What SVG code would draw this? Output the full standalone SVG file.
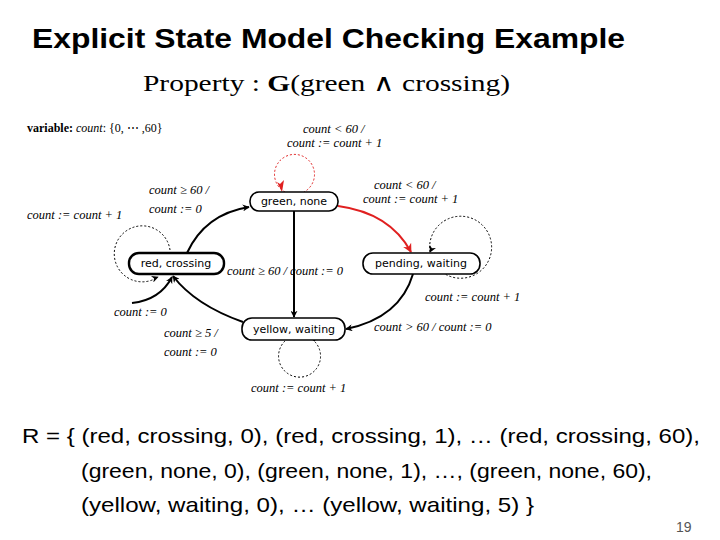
<svg xmlns="http://www.w3.org/2000/svg" width="720" height="540" viewBox="0 0 720 540">
<style>
.t{font-family:"Liberation Sans",Arial,sans-serif}
.m{font-family:"Liberation Serif","Times New Roman",serif;font-size:12.5px;font-style:italic}
.n rect{fill:#fff;stroke:#000;stroke-width:1.6}
.n text{font-family:"DejaVu Sans",sans-serif;font-size:11px;text-anchor:middle}
.e{fill:none;stroke:#000;stroke-width:2}
.d{fill:none;stroke:#000;stroke-width:1;stroke-dasharray:2,2}
</style>
<defs>
<marker id="a" viewBox="0 0 10 10" refX="9" refY="5" markerWidth="7" markerHeight="7" markerUnits="userSpaceOnUse" orient="auto"><path d="M0,0L10,5L0,10L3,5z" fill="#000"/></marker>
<marker id="r" viewBox="0 0 10 10" refX="9" refY="5" markerWidth="9" markerHeight="9" markerUnits="userSpaceOnUse" orient="auto"><path d="M0,0L10,5L0,10L3,5z" fill="#e02020"/></marker>
</defs>
<text class="t" x="32" y="48" font-size="28" font-weight="bold" textLength="593" lengthAdjust="spacingAndGlyphs">Explicit State Model Checking Example</text>
<text x="143" y="91" font-family="Liberation Serif,serif" font-size="24" textLength="367" lengthAdjust="spacingAndGlyphs">Property : <tspan font-weight="bold">G</tspan>(green ∧ crossing)</text>
<text x="27" y="132" font-family="Liberation Serif,serif" font-size="12"><tspan font-weight="bold">variable:</tspan> <tspan font-style="italic">count</tspan>: {0, ⋯ ,60}</text>
<g id="connectors">
<path class="d" d="M285,192 A20,20 0 1 1 304,192" style="stroke:#e02020"/>
<path d="M277,182 L282,192 L284,180 L280,184z" fill="#e02020"/>
<path class="d" d="M170,250 A28,28 0 1 0 158,277"/>
<path d="M150,280 L158,277" marker-end="url(#a)"/>
<path class="d" d="M430,252 A31,31 0 1 1 445,274"/>
<path d="M434,244 L430,252" marker-end="url(#a)"/>
<path class="d" d="M285,341 A21,21 0 1 0 313,340"/>
<path d="M311,336 L315,341" marker-end="url(#a)"/>
<path class="e" d="M187,253 Q205,214 249,207" marker-end="url(#a)"/>
<path class="e" d="M294,211 L294,317" marker-end="url(#a)"/>
<path class="e" d="M338,206 Q390,213 411,252" style="stroke:#e02020" marker-end="url(#r)"/>
<path class="e" d="M413,274 Q400,318 346,329" marker-end="url(#a)"/>
<path class="e" d="M243,322 Q195,305 173,276" marker-end="url(#a)"/>
<path class="e" d="M132,303 Q160,300 172,277" stroke-width="1.6" marker-end="url(#a)"/>
</g>
<g id="green"><g class="n"><rect x="250" y="192" width="88" height="19" rx="9"/><text x="294" y="205">green, none</text></g></g>
<g id="red"><g class="n"><rect x="129" y="253" width="95" height="21" rx="10" style="stroke-width:2.4"/><text x="176" y="267">red, crossing</text></g></g>
<g id="pending"><g class="n"><rect x="363" y="253" width="117" height="21" rx="10"/><text x="421" y="267">pending, waiting</text></g></g>
<g id="yellow"><g class="n"><rect x="242" y="318" width="103" height="22" rx="10"/><text x="294" y="333">yellow, waiting</text></g></g>
<g id="labels">
<text class="m" x="303" y="133">count &lt; 60 /</text>
<text class="m" x="287" y="147">count := count + 1</text>
<text class="m" x="149" y="194">count ≥ 60 /</text>
<text class="m" x="149" y="213">count := 0</text>
<text class="m" x="27" y="219">count := count + 1</text>
<text class="m" x="374" y="189">count &lt; 60 /</text>
<text class="m" x="363" y="203">count := count + 1</text>
<text class="m" x="227" y="275">count ≥ 60 / count := 0</text>
<text class="m" x="425" y="301">count := count + 1</text>
<text class="m" x="114" y="316">count := 0</text>
<text class="m" x="374" y="331">count &gt; 60 / count := 0</text>
<text class="m" x="164" y="337">count ≥ 5 /</text>
<text class="m" x="164" y="356">count := 0</text>
<text class="m" x="251" y="392">count := count + 1</text>
</g>
<g class="t" font-size="21">
<text x="22" y="443" textLength="678" lengthAdjust="spacingAndGlyphs">R = { (red, crossing, 0), (red, crossing, 1), … (red, crossing, 60),</text>
<text x="81" y="478" textLength="571" lengthAdjust="spacingAndGlyphs">(green, none, 0), (green, none, 1), …, (green, none, 60),</text>
<text x="81" y="512" textLength="453" lengthAdjust="spacingAndGlyphs">(yellow, waiting, 0), … (yellow, waiting, 5) }</text>
</g>
<text class="t" x="676" y="532" font-size="14" fill="#555">19</text>
</svg>
